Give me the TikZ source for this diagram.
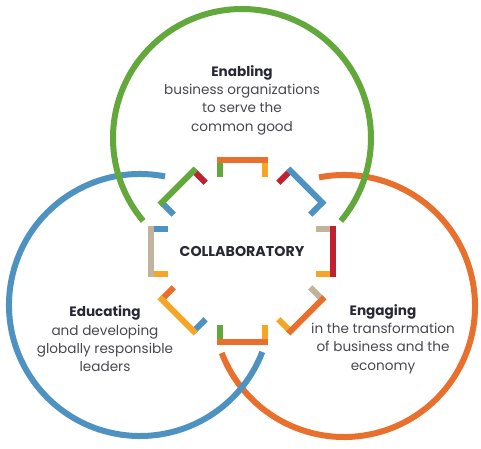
\documentclass[tikz,border=0pt]{standalone}
\usepackage{fontspec}
\setmainfont{Poppins}
\usepackage{tikz}
\usetikzlibrary{positioning, calc}
\definecolor{ringgreen}{RGB}{98, 168, 58}
\definecolor{ringblue}{RGB}{78, 146, 194}
\definecolor{ringorange}{RGB}{232, 112, 44}
\definecolor{brkyellow}{RGB}{246, 166, 38}
\definecolor{brkred}{RGB}{192, 32, 48}
\definecolor{brktan}{RGB}{194, 180, 156}
\definecolor{headtext}{RGB}{40, 40, 52}
\definecolor{bodytext}{RGB}{72, 72, 80}

\begin{document}
\begin{tikzpicture}[x=1pt, y=-1pt,
  ring/.style={line width=6pt},
  brk/.style={line width=6pt},
  blurb/.style={align=center, text=bodytext, font=\fontsize{13.6}{18.3}\selectfont},
  hub/.style={font=\bfseries\fontsize{14.2}{16}\selectfont, text=headtext}]
  \useasboundingbox (0,0) rectangle (481,448);
  % three rings, orange under blue under green
  \draw[ring, ringorange] (344,306) ++(259:131) arc[start angle=259, end angle=519, radius=131];
  \draw[ring, ringblue] (140,305) ++(281:131) arc[start angle=281, end angle=21, radius=131];
  \draw[ring, ringgreen] (242,138) ++(140:129) arc[start angle=140, end angle=400, radius=129];
  % brackets round the centre
  \coordinate (core) at (242,251);
  \foreach \a/\cbar/\cone/\ctwo in {0/brkred/brktan/brkyellow, 45/ringorange/brktan/brkyellow,
      90/ringorange/brkyellow/ringgreen, 135/brkyellow/ringblue/ringorange,
      180/brktan/brkyellow/ringblue, 225/ringgreen/ringblue/brkred,
      270/ringorange/ringgreen/brkyellow, 315/ringblue/brkred/ringblue} {
    \begin{scope}[shift={(core)}, rotate=-\a]
      \draw[brk, \cone] (91,-22.5) -- (74,-22.5);
      \draw[brk, \ctwo] (91,22.5) -- (74,22.5);
      \draw[brk, \cbar] (91,-25.5) -- (91,25.5);
    \end{scope}
  }
  \node[hub] (collab) at (core) {COLLABORATORY};
  % the three texts
  \node[blurb] (enabling) at (242,100) {{\bfseries\color{headtext}Enabling}\\business organizations\\to serve the\\common good};
  \node[blurb] (educating) at (105,339) {{\bfseries\color{headtext}Educating}\\and developing\\globally responsible\\leaders};
  \node[blurb] (engaging) at (383,339) {{\bfseries\color{headtext}Engaging}\\in the transformation\\of business and the\\economy};
\end{tikzpicture}
\end{document}
